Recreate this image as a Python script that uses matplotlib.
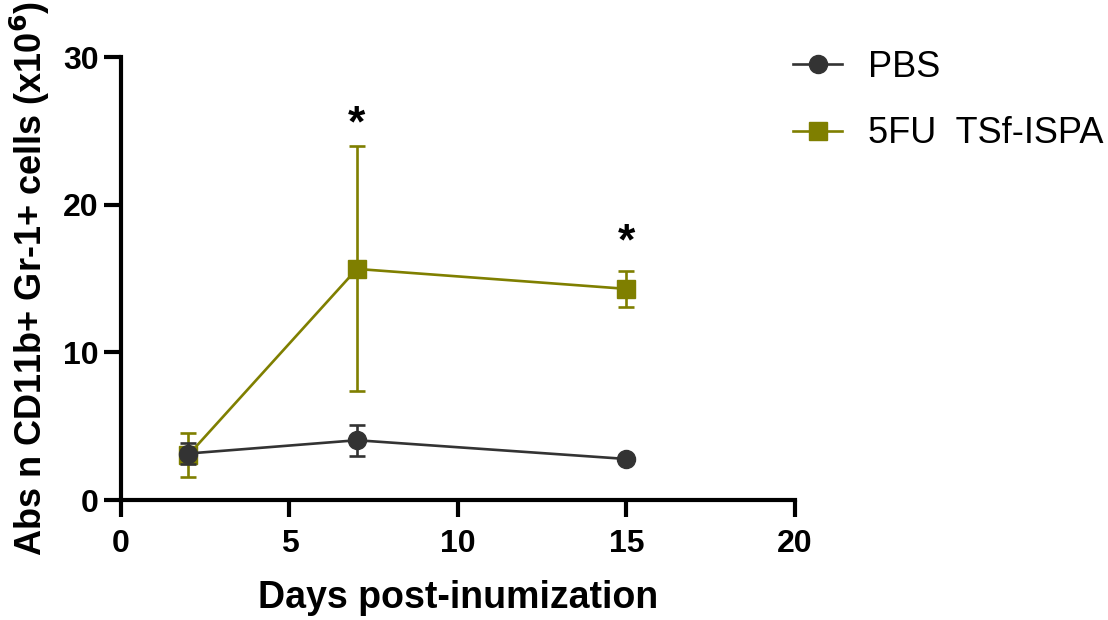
import matplotlib.pyplot as plt

plt.rcParams['font.family'] = ['Liberation Sans', 'DejaVu Sans']

days = [2, 7, 15]
pbs_mean = [3.15, 4.05, 2.78]
pbs_err = [0.7, 1.05, 0.0]
tsf_mean = [3.05, 15.65, 14.3]
tsf_err = [1.5, 8.3, 1.2]
star_days = [7, 15]
star_y = [24.0, 16.0]

grey = '#333333'
olive = '#7f7f00'

fig = plt.figure(figsize=(11.08, 6.2), dpi=100)
ax = fig.add_axes([0.1092, 0.1935, 0.6083, 0.7145])

tsf = ax.errorbar(days, tsf_mean, yerr=tsf_err, color=olive, marker='s', markersize=13,
                  linewidth=1.9, elinewidth=1.9, capsize=6, capthick=1.9, zorder=2)
pbs = ax.errorbar(days, pbs_mean, yerr=pbs_err, color=grey, marker='o', markersize=13,
                  linewidth=1.9, elinewidth=1.9, capsize=6, capthick=1.9, zorder=3)

for d, y in zip(star_days, star_y):
    ax.text(d, y, '*', ha='center', va='bottom', fontsize=32, fontweight='bold')

ax.set_xlim(0, 20)
ax.set_ylim(0, 30)
ax.set_xticks([0, 5, 10, 15, 20])
ax.set_yticks([0, 10, 20, 30])
for s in ['top', 'right']:
    ax.spines[s].set_visible(False)
for s in ['left', 'bottom']:
    ax.spines[s].set_linewidth(3)
ax.tick_params(width=3, length=12, labelsize=23)
ax.tick_params(axis='x', pad=9)
ax.tick_params(axis='y', pad=4)
for lab in ax.get_xticklabels() + ax.get_yticklabels():
    lab.set_fontweight('bold')

ax.set_xlabel('Days post-inumization', fontsize=27, fontweight='bold', labelpad=15)
ax.set_ylabel('Abs n CD11b+ Gr-1+ cells (x10$^{\\mathbf{6}}$)', fontsize=26, fontweight='bold', labelpad=8)

ax.legend([pbs[0], tsf[0]], ['PBS', '5FU  TSf-ISPA'], loc='upper left',
          bbox_to_anchor=(793 / 1108, 0.92), bbox_transform=fig.transFigure,
          frameon=False, fontsize=26, handlelength=1.36, handletextpad=0.72,
          labelspacing=0.88, borderpad=0, borderaxespad=0)

fig.savefig('out.png', dpi=100)
